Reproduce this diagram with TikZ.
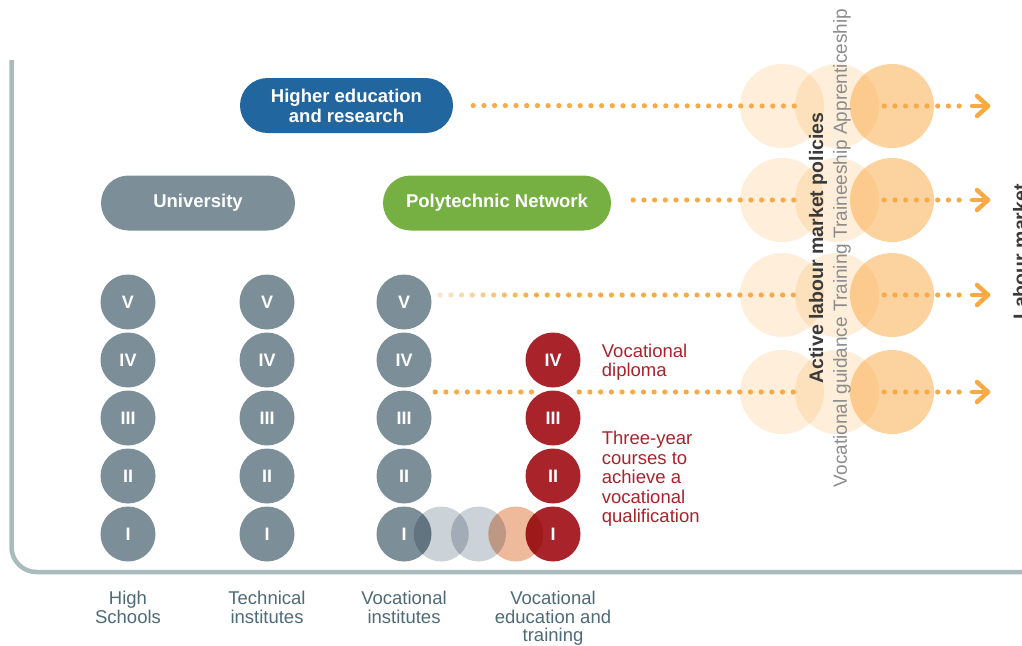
\documentclass[tikz,border=0pt]{standalone}
\usepackage{fontspec}
\setmainfont{Liberation Sans}
\usetikzlibrary{positioning}
\usetikzlibrary{calc}

% colours
\definecolor{frameGrey}{HTML}{A9BBBE}
\definecolor{schoolGrey}{HTML}{7C8E98}
\definecolor{linkGrey}{HTML}{CBD2D8}
\definecolor{linkPeach}{HTML}{EFB99C}
\definecolor{vetRed}{HTML}{A9232A}
\definecolor{heBlue}{HTML}{2266A0}
\definecolor{polyGreen}{HTML}{77B042}
\definecolor{dotOrange}{HTML}{F9A945}
\definecolor{labelSlate}{HTML}{4D6A77}
\definecolor{policyInk}{HTML}{3A3A3A}
\definecolor{measureGrey}{HTML}{8C8C8C}

\begin{document}
\begin{tikzpicture}[x=1pt,y=-1pt,
	level/.style={circle, fill=schoolGrey, minimum size=55pt, inner sep=0pt, text=white, font=\fontsize{18}{18}\selectfont\bfseries},
	vetLevel/.style={level, fill=vetRed},
	link/.style={circle, minimum size=55pt, inner sep=0pt},
	pill/.style={rectangle, rounded corners=27.5pt, minimum height=55pt, text=white, align=center, font=\fontsize{18.5}{20}\selectfont\bfseries},
	halo/.style={circle, minimum size=84pt, inner sep=0pt, fill=dotOrange},
	dots/.style={draw=dotOrange, line width=5.2pt, line cap=round, dash pattern=on 0pt off 10.7pt},
	chev/.style={draw=dotOrange, line width=4.5pt, line cap=round, line join=round},
	caption/.style={inner sep=0pt, align=center, text=labelSlate, font=\fontsize{18.5}{18.8}\selectfont},
	note/.style={inner sep=0pt, align=left, text=vetRed, font=\fontsize{18.5}{19.5}\selectfont},
	]

	% sizes of the picture, in pixels of the reference
	\def\colHs{128}
	\def\colTi{267}
	\def\colVi{404}
	\def\colVet{553}
	\def\rowStep{58}

	\useasboundingbox (0,0) rectangle (1022,645);

	% the grey frame round the school system
	\draw[frameGrey, line width=4.5pt, rounded corners=25pt] (11.5,60) |- (1030,572);

	% the tertiary level
	\node[pill, fill=heBlue, minimum width=213pt] (higher) at (346.5,105.5) {Higher education\\and research};
	\node[pill, fill=schoolGrey, minimum width=194pt] (uni) at (198,203) {University};
	\node[pill, fill=polyGreen, minimum width=228pt] (poly) at (497,203) {Polytechnic Network};

	% the school years, I at the bottom
	\foreach \n [count=\k] in {I,II,III,IV,V} {
		\node[level] (hs\k) at (\colHs,{592-\rowStep*\k}) {\n};
		\node[level] (ti\k) at (\colTi,{592-\rowStep*\k}) {\n};
		\node[level] (vi\k) at (\colVi,{592-\rowStep*\k}) {\n};
	}
	\foreach \n [count=\k] in {I,II,III,IV}
		\node[vetLevel] (vet\k) at (\colVet,{592-\rowStep*\k}) {\n};

	% passage from the institutes to vocational training
	\begin{scope}[blend mode=multiply]
		\node[link, fill=linkGrey] (ch1) at ($(vi1)+(37.25,0)$) {};
		\node[link, fill=linkGrey] (ch2) at ($(vi1)+(74.5,0)$) {};
		\node[link, fill=linkPeach] (ch3) at ($(vi1)+(111.75,0)$) {};
	\end{scope}

	% labour market policies, three rings per row
	\foreach \y [count=\k] in {106,200,295,392} {
		\node[halo, fill opacity=0.2] (gl\k) at (782,\y) {};
		\node[halo, fill opacity=0.2] (gm\k) at (837,\y) {};
		\node[halo, fill opacity=0.52] (gr\k) at (892,\y) {};
	}

	% dotted paths into the policies
	\draw[dots] ($(higher.east)+(20,0)$) -- (gm1.west);
	\coordinate (p2) at ($(poly.east)+(22,0)$);
	\draw[dots] (p2 |- gm2) -- (gm2.west);
	% fading out of the vocational institutes
	\coordinate (p3) at ($(vi5.east)+(8.5,0)$);
	\coordinate (s3) at (p3 |- gm3);
	\foreach \i [evaluate=\i as \op using 0.3+0.08*\i] in {0,...,8}
		\fill[dotOrange, opacity=\op] ($(s3)+(10.7*\i,0)$) circle (2.6);
	\draw[dots] ($(s3)+(96.3,0)$) -- (gm3.west);
	\coordinate (p4) at ($(vi4.east)+(3.5,0)$);
	\coordinate (s4) at (p4 |- gm4);
	\draw[dots] (s4) -- ++(97,0);
	\coordinate (q4) at ($(vet4.east)+(-1.5,0)$);
	\draw[dots] (q4 |- gm4) -- (gm4.west);

	% out into the labour market
	\foreach \k in {1,...,4} {
		\draw[dots] ($(gm\k.east)+(5,0)$) -- ++(76,0);
		\coordinate (tip\k) at ($(gr\k.center)+(96,0)$);
		\draw[chev] ($(tip\k)+(-16,0)$) -- (tip\k);
		\draw[chev] ($(tip\k)+(-11,-10)$) -- (tip\k) -- ($(tip\k)+(-11,10)$);
	}

	% texts
	\node[note, right=21pt of vet4, yshift=-2pt] (diploma) {Vocational\\diploma};
	\node[note, right=21pt of vet2, yshift=-3pt] (courses) {Three-year\\courses to\\achieve a\\vocational\\qualification};

	\node[caption, below=29pt of hs1] (capHs) {High\\Schools};
	\node[caption, below=29pt of ti1] (capTi) {Technical\\institutes};
	\node[caption, below=29pt of vi1] (capVi) {Vocational\\institutes};
	\node[caption, below=29pt of vet1] (capVet) {Vocational\\education and\\training};

	\node[rotate=90, inner sep=0pt, text=policyInk, font=\fontsize{19.5}{20}\selectfont\bfseries] (policies) at (818,248) {Active labour market policies};
	\node[rotate=90, inner sep=0pt, text=measureGrey, font=\fontsize{19}{20}\selectfont] (measures) at (842,248) {Vocational guidance Training Traineeship Apprenticeship};
	\node[rotate=90, anchor=base west, inner sep=0pt, text=policyInk, font=\fontsize{19.5}{20}\selectfont\bfseries] (market) at (1027,320) {Labour market};

\end{tikzpicture}
\end{document}
